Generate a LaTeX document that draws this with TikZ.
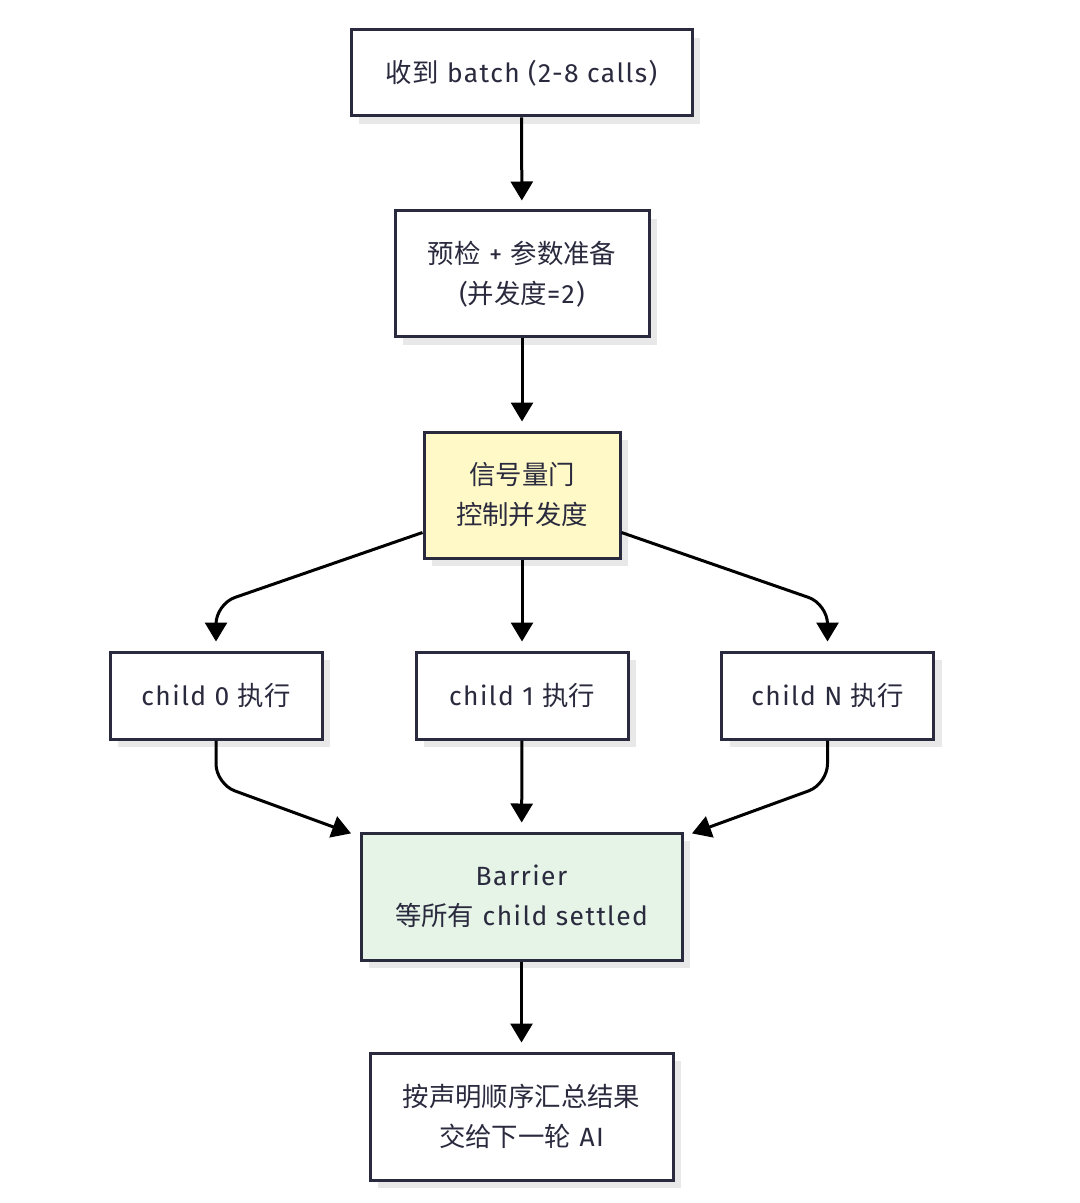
\documentclass[tikz,border=0pt]{standalone}
\usepackage{fontspec}
\setmainfont{Fira Sans}[LetterSpace=5.5]
\newfontfamily\cjk{Noto Sans CJK SC}
\usetikzlibrary{arrows.meta,calc,shadows}
\definecolor{bd}{RGB}{42,42,62}
\definecolor{shadowc}{RGB}{232,232,232}
\definecolor{yel}{RGB}{255,248,199}
\definecolor{grn}{RGB}{230,244,231}
\newcommand{\zh}[1]{{\cjk #1}}
\begin{document}
\begin{tikzpicture}[x=0.5pt,y=-0.5pt,
 box/.style={draw=bd, line width=1.5pt, text=bd, align=center,
   font=\fontsize{13.2}{20}\selectfont, inner sep=0pt, fill=white,
   drop shadow={shadow xshift=4pt, shadow yshift=-4pt, fill=shadowc, opacity=1}},
 arr/.style={draw=black, line width=1.5pt, -{Triangle[width=11pt,length=9.5pt]},
   shorten >=4.5pt, rounded corners=10pt}]
\useasboundingbox[fill=white] (0,0) rectangle (1080,1203);

\node[box, minimum width=170.5pt, minimum height=43pt] (a) at (521.5,73) {\zh{收到} batch (2-8 calls)};
\node[box, minimum width=127pt, minimum height=63pt] (b) at (522,274) {\zh{预检} + \zh{参数准备}\\(\zh{并发度}=2)};
\node[box, fill=yel, minimum width=98pt, minimum height=63pt] (g) at (522,495) {\zh{信号量门}\\\zh{控制并发度}};
\node[box, minimum width=106pt, minimum height=43.5pt] (c0) at (216,695.5) {child 0 \zh{执行}};
\node[box, minimum width=106pt, minimum height=43.5pt] (c1) at (522,695.5) {child 1 \zh{执行}};
\node[box, minimum width=106pt, minimum height=43.5pt] (cn) at (827.5,695.5) {child N \zh{执行}};
\node[box, fill=grn, minimum width=160.5pt, minimum height=63.5pt] (bar) at (521.5,896.5) {Barrier\\\zh{等所有} child settled};
\node[box, minimum width=151.5pt, minimum height=63.5pt] (f) at (521.5,1116.5) {\zh{按声明顺序汇总结果}\\\zh{交给下一轮} AI};

\draw[arr] (a) -- (b);
\draw[arr] (b) -- (g);
\draw[arr] ($(g.south west)+(0,13.5pt)$) -- (216,604) -- (c0.north);
\draw[arr] (g) -- (c1);
\draw[arr] ($(g.south east)+(0,13.5pt)$) -- (827.5,604) -- (cn.north);
\draw[arr] (c0.south) -- (216,784) -- ($(bar.north west)+(0,-2.5pt)$);
\draw[arr] (c1) -- (bar);
\draw[arr] (cn.south) -- (827.5,784) -- ($(bar.north east)+(0,-2.5pt)$);
\draw[arr] (bar) -- (f);
\end{tikzpicture}
\end{document}
